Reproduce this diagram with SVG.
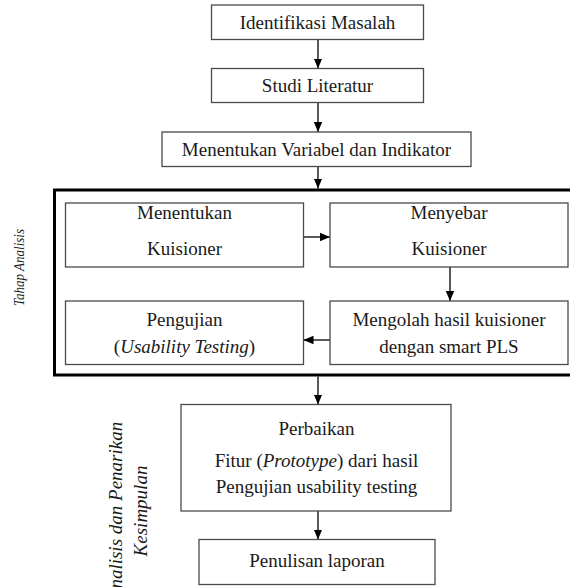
<svg xmlns="http://www.w3.org/2000/svg" width="570" height="587" viewBox="0 0 570 587" font-family="'Liberation Serif', Tinos, 'Times New Roman', 'Nimbus Roman', 'DejaVu Serif', serif">
<style>
.box{fill:#fff;stroke:#4a4a4a;stroke-width:1.3}
.big{fill:none;stroke:#000;stroke-width:3}
.t{font-size:19px;fill:#1a1a1a;text-anchor:middle}
.it{font-style:italic}
.sm{font-size:15px}
.c{stroke:#000;stroke-width:1.3;fill:none;marker-end:url(#ah)}
</style>
<defs>
<marker id="ah" markerUnits="userSpaceOnUse" markerWidth="10" markerHeight="10" viewBox="0 0 10 10" refX="10" refY="5" orient="auto">
<path d="M0,0.8 L10,5 L0,9.2 Z" fill="#000"/>
</marker>
</defs>
<rect width="570" height="587" fill="#fff"/>
<g id="tahap-analisis">
<rect class="big" x="54.5" y="190" width="520" height="185"/>
<text class="t it sm" transform="translate(23.5,267.5) rotate(-90)" textLength="77" lengthAdjust="spacingAndGlyphs">Tahap Analisis</text>
</g>
<g id="label-kesimpulan">
<text class="t it" transform="translate(121.5,511) rotate(-90)">Analisis dan Penarikan</text>
<text class="t it" transform="translate(147,511) rotate(-90)">Kesimpulan</text>
</g>
<g id="connectors">
<line class="c" x1="318" y1="39.5" x2="318" y2="68.5"/>
<line class="c" x1="318" y1="102.5" x2="318" y2="132"/>
<line class="c" x1="318" y1="166.5" x2="318" y2="188.5"/>
<line class="c" x1="303.5" y1="237" x2="330" y2="237"/>
<line class="c" x1="450" y1="267" x2="450" y2="301"/>
<line class="c" x1="330" y1="340" x2="303.5" y2="340"/>
<line class="c" x1="318" y1="376.5" x2="318" y2="404.5"/>
<line class="c" x1="318" y1="511" x2="318" y2="539.5"/>
</g>
<g id="identifikasi-masalah">
<rect class="box" x="211.5" y="5" width="212" height="34.5"/>
<text class="t" x="317.5" y="28.5">Identifikasi Masalah</text>
</g>
<g id="studi-literatur">
<rect class="box" x="211.5" y="68.5" width="212" height="34"/>
<text class="t" x="317.5" y="92">Studi Literatur</text>
</g>
<g id="menentukan-variabel">
<rect class="box" x="162" y="132" width="309" height="34.5"/>
<text class="t" x="316.5" y="155.5">Menentukan Variabel dan Indikator</text>
</g>
<g id="menentukan-kuisioner">
<rect class="box" x="65.5" y="203" width="238" height="64"/>
<text class="t" x="184.5" y="218.5">Menentukan</text>
<text class="t" x="184.5" y="255">Kuisioner</text>
</g>
<g id="menyebar-kuisioner">
<rect class="box" x="330" y="203" width="238" height="64"/>
<text class="t" x="449" y="218.5">Menyebar</text>
<text class="t" x="449" y="255">Kuisioner</text>
</g>
<g id="pengujian">
<rect class="box" x="65.5" y="301" width="238" height="63.5"/>
<text class="t" x="184.5" y="325.5">Pengujian</text>
<text class="t" x="184.5" y="352.5">(<tspan class="it">Usability Testing</tspan>)</text>
</g>
<g id="mengolah">
<rect class="box" x="330" y="301" width="238" height="63.5"/>
<text class="t" x="449" y="325.5">Mengolah hasil kuisioner</text>
<text class="t" x="449" y="352.5">dengan smart PLS</text>
</g>
<g id="perbaikan">
<rect class="box" x="181" y="404.5" width="270" height="106.5"/>
<text class="t" x="316.5" y="435">Perbaikan</text>
<text class="t" x="316.5" y="466.5">Fitur (<tspan class="it">Prototype</tspan>) dari hasil</text>
<text class="t" x="316.5" y="493">Pengujian usability testing</text>
</g>
<g id="penulisan-laporan">
<rect class="box" x="199" y="539.5" width="236" height="45"/>
<text class="t" x="317" y="567">Penulisan laporan</text>
</g>
</svg>
